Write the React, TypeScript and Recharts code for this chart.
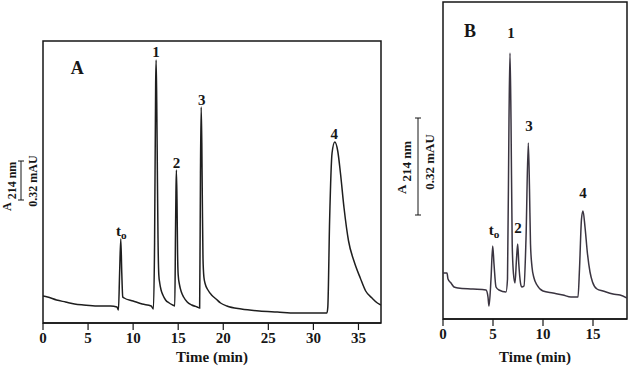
import { LineChart, Line, XAxis, YAxis, ReferenceArea, ReferenceDot } from 'recharts';

const FONT = '"Liberation Serif", "Times New Roman", serif';
const INK = '#161616';

// panel A: time (min) vs absorbance (arbitrary units)
const TIME_A = [
    0, 0.5, 1.5, 2.5, 3.5, 4.5, 6, 7.5, 8.2, 8.37, 8.5, 8.63, 8.74, 8.85, 9.0, 10, 11, 12, 12.25,
    12.38, 12.5, 12.55, 12.62, 12.7, 12.76, 12.85, 12.95, 13.1, 13.3, 13.6, 14.0, 14.4, 14.62,
    14.7, 14.75, 14.8, 14.87, 14.93, 15.0, 15.15, 15.35, 15.6, 16.0, 16.5, 17.1, 17.38,
    17.47, 17.55, 17.62, 17.68, 17.75, 17.85, 18.0, 18.3, 18.7, 19.2, 19.7, 20.4, 22, 24, 26, 28, 31.5,
    31.6, 31.8, 32.07, 32.37, 32.7, 33.0, 33.4, 33.9, 34.5, 35.2, 35.8, 36.5, 37.1, 37.5
];
const SIGNAL_A = [
    27, 26, 23, 21, 19, 18, 17, 17, 16, 13, 50, 84, 50, 26, 25, 22, 19, 17, 14,
    80, 240, 263, 220, 140, 85, 48, 40, 33, 28, 23, 20, 18, 17,
    90, 130, 153, 120, 70, 48, 38, 31, 26, 21, 18, 16, 15,
    150, 216, 180, 120, 65, 46, 39, 33, 28, 24, 20, 17, 14, 12, 11, 10, 10,
    16, 103, 170, 181, 172, 150, 115, 82, 62, 45, 32, 25, 20, 18
];

// panel B
const TIME_B = [
    0, 0.4, 0.5, 0.8, 1.1, 1.5, 3, 4.3, 4.5, 4.6, 4.8, 4.97, 5.1, 5.3, 5.6, 6.3,
    6.45, 6.6, 6.7, 6.8, 6.92, 7.05, 7.2, 7.35, 7.47, 7.58, 7.75, 7.87, 8.1,
    8.3, 8.53, 8.65, 8.75, 8.9, 9.1, 9.4, 10, 11, 12, 12.8, 13.5,
    13.65, 13.85, 14.0, 14.2, 14.45, 14.7, 14.95, 15.4, 16, 17, 17.7, 18.4
];
const SIGNAL_B = [
    46, 46, 40, 36, 32, 31, 30, 29, 22, 13, 40, 73, 55, 32, 29, 27,
    40, 200, 266, 200, 75, 45, 36, 60, 75, 55, 36, 32, 33,
    80, 176, 130, 75, 52, 41, 34, 28, 26, 24, 22, 22,
    50, 100, 108, 92, 65, 47, 37, 30, 28, 25, 24, 21
];

const TICKS_A = [0, 5, 10, 15, 20, 25, 30, 35];
const TICKS_B = [0, 5, 10, 15];

// peak labels: [text, time, level where the label sits]
const PEAKS_A: [string, number, number][] = [
    ['to', 8.7, 92], ['1', 12.55, 271], ['2', 14.8, 160], ['3', 17.6, 223], ['4', 32.3, 189]
];
const PEAKS_B: [string, number, number][] = [
    ['to', 5.1, 89], ['1', 6.8, 286], ['2', 7.5, 91], ['3', 8.6, 193], ['4', 14.0, 126]
];

const dataA = TIME_A.map((t, i) => ({ t, v: SIGNAL_A[i] }));
const dataB = TIME_B.map((t, i) => ({ t, v: SIGNAL_B[i] }));

function PeakText({ cx, cy, text, size = 15 }: { cx?: number; cy?: number; text: string; size?: number }) {
    if (cx == null || cy == null) return null;
    if (text === 'to') {
        return (
            <text x={cx} y={cy} textAnchor="middle" dominantBaseline="central"
                fontFamily={FONT} fontWeight="bold" fontSize={size} fill={INK}>
                t<tspan fontSize={size * 0.75} dy={4}>o</tspan>
            </text>
        );
    }
    return (
        <text x={cx} y={cy} textAnchor="middle" dominantBaseline="central"
            fontFamily={FONT} fontWeight="bold" fontSize={size} fill={INK}>
            {text}
        </text>
    );
}

const tickStyle = { fontFamily: FONT, fontWeight: 'bold', fontSize: 15, fill: INK };

function Panel({ data, ticks, xMax, yMax, peaks, tag, tagAt, width, margin, axisHeight, stroke }: any) {
    return (
        <LineChart width={width} height={367} data={data} margin={margin}>
            <XAxis
                dataKey="t"
                type="number"
                domain={[0, xMax]}
                allowDataOverflow
                ticks={ticks}
                tickSize={7}
                height={axisHeight}
                axisLine={{ stroke: INK, strokeWidth: 1.5 }}
                tickLine={{ stroke: INK, strokeWidth: 1.2 }}
                tick={tickStyle}
                label={{ value: 'Time (min)', position: 'insideBottom', offset: 5, style: tickStyle }}
            />
            <YAxis hide type="number" domain={[0, yMax]} allowDataOverflow />
            <ReferenceArea x1={0} x2={xMax} y1={0} y2={yMax} fill="none" fillOpacity={0} stroke={INK} strokeWidth={1.5} />
            <Line type="monotoneX" dataKey="v" stroke={stroke} strokeWidth={1.5} dot={false} isAnimationActive={false} />
            {peaks.map(([text, t, v]: [string, number, number]) => (
                <ReferenceDot key={text} x={t} y={v} r={0}
                    shape={(p: any) => <PeakText cx={p.cx} cy={p.cy} text={text} />} />
            ))}
            <ReferenceDot x={tagAt[0]} y={tagAt[1]} r={0}
                shape={(p: any) => <PeakText cx={p.cx} cy={p.cy} text={tag} size={18} />} />
        </LineChart>
    );
}

function AxisTitle({ x, yStart, yMid, barX, barTop, barBottom, size }: any) {
    return (
        <g fill={INK} fontFamily={FONT} fontWeight="bold">
            <text transform={`translate(${x},${yStart}) rotate(-90)`} fontSize={size}>
                A<tspan dy={5} dx={3}>214 nm</tspan>
            </text>
            <line x1={barX} x2={barX} y1={barTop} y2={barBottom} stroke={INK} strokeWidth={1} />
            <line x1={barX - 3} x2={barX + 3} y1={barTop} y2={barTop} stroke={INK} strokeWidth={1} />
            <line x1={barX - 3} x2={barX + 3} y1={barBottom} y2={barBottom} stroke={INK} strokeWidth={1} />
            <text transform={`translate(${barX + 16},${yMid}) rotate(-90)`} fontSize={size} textAnchor="middle">
                0.32 mAU
            </text>
        </g>
    );
}

export default function App() {
    return (
        <div style={{ position: 'absolute', left: 0, top: 0, width: 630, height: 367, background: '#fff' }}>
            <div style={{ position: 'absolute', left: 0, top: 0 }}>
                <Panel data={dataA} ticks={TICKS_A} xMax={37.5} yMax={282} peaks={PEAKS_A}
                    tag="A" tagAt={[3.8, 255]} width={400}
                    margin={{ top: 41, right: 19, left: 43, bottom: 0 }} axisHeight={44} stroke="#1e1e1e" />
            </div>
            <div style={{ position: 'absolute', left: 400, top: 0 }}>
                <Panel data={dataB} ticks={TICKS_B} xMax={18.4} yMax={317} peaks={PEAKS_B}
                    tag="B" tagAt={[2.7, 288]} width={230}
                    margin={{ top: 2, right: 3, left: 43, bottom: 0 }} axisHeight={48} stroke="#3a3440" />
            </div>
            <svg width={630} height={367} style={{ position: 'absolute', left: 0, top: 0, pointerEvents: 'none' }}>
                <AxisTitle x={11} yStart={211} yMid={181} barX={21} barTop={161} barBottom={200} size={12} />
                <AxisTitle x={406} yStart={194} yMid={162} barX={418} barTop={118} barBottom={215} size={13} />
            </svg>
        </div>
    );
}
